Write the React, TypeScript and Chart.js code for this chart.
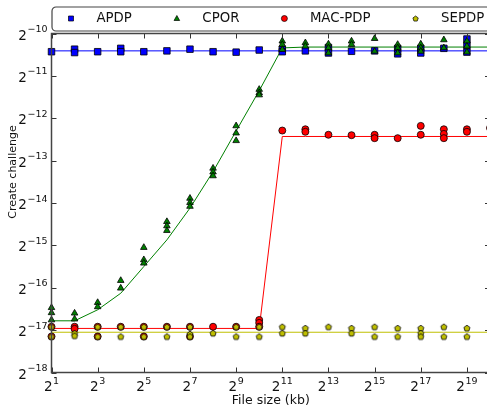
import { useEffect, useRef } from "react";
import { Chart, registerables } from "chart.js";

Chart.register(...registerables);

// File sizes in kb (powers of two)
const fileSizesKb = [
  2, 4, 8, 16, 32, 64, 128, 256, 512, 1024, 2048, 4096, 8192, 16384, 32768,
  65536, 131072, 262144, 524288, 1048576,
];

// Series names
const seriesNames = ["APDP", "CPOR", "MAC-PDP", "SEPDP"];

// Trend lines, log2 of the time (one value per file size)
const apdpTrendLog2 = [
  -10.41, -10.41, -10.41, -10.41, -10.41, -10.41, -10.41, -10.41, -10.41, -10.41,
  -10.41, -10.41, -10.41, -10.41, -10.41, -10.41, -10.41, -10.41, -10.41, -10.41,
];
const cporTrendLog2 = [
  -16.78, -16.78, -16.52, -16.13, -15.5, -14.87, -14.12, -13.26, -12.3, -11.35,
  -10.34, -10.32, -10.32, -10.32, -10.32, -10.32, -10.32, -10.32, -10.32, -10.32,
];
const macPdpTrendLog2 = [
  -16.96, -16.96, -16.96, -16.96, -16.96, -16.96, -16.96, -16.96, -16.96, -16.96,
  -12.43, -12.43, -12.43, -12.43, -12.43, -12.43, -12.43, -12.43, -12.43, -12.43,
];
const sepdpTrendLog2 = [
  -17.05, -17.05, -17.05, -17.05, -17.05, -17.05, -17.05, -17.05, -17.05, -17.05,
  -17.05, -17.05, -17.05, -17.05, -17.05, -17.05, -17.05, -17.05, -17.05, -17.05,
];

// Individual runs, log2 of the time (list per file size)
const apdpRunsLog2 = [
  [-10.43], [-10.37, -10.45], [-10.43], [-10.35, -10.43], [-10.43],
  [-10.41], [-10.37], [-10.43], [-10.44], [-10.39],
  [-10.37, -10.43], [-10.41], [-10.33, -10.46], [-10.42], [-10.41],
  [-10.35, -10.48], [-10.35, -10.46], [-10.35], [-10.13, -10.28, -10.44], [],
];
const cporRunsLog2 = [
  [-16.47, -16.59, -16.76], [-16.6, -16.74], [-16.35, -16.45], [-15.83, -16.01],
  [-15.05, -15.34, -15.42], [-14.44, -14.54, -14.65], [-13.89, -13.99, -14.08],
  [-13.18, -13.27, -13.36], [-12.18, -12.35, -12.53], [-11.32, -11.4, -11.45],
  [-10.18, -10.26, -10.38], [-10.22, -10.3], [-10.25, -10.34, -10.46],
  [-10.18, -10.26], [-10.12, -10.42], [-10.26, -10.34, -10.46],
  [-10.25, -10.34, -10.42], [-10.15, -10.34], [-10.18, -10.3, -10.44], [],
];
const macPdpRunsLog2 = [
  [-16.92, -17.15], [-16.92, -16.97], [-16.92, -17.15], [-16.92], [-16.92, -17.15],
  [-16.92], [-16.92, -17.15], [-16.92], [-16.92], [-16.76, -16.83, -16.92],
  [-12.29], [-12.26, -12.32], [-12.39], [-12.4], [-12.39, -12.47],
  [-12.47], [-12.18, -12.39], [-12.26, -12.37, -12.47], [-12.26, -12.32], [-12.23],
];
const sepdpRunsLog2 = [
  [-16.92, -17.15], [-17.07, -17.13], [-16.92, -17.15], [-16.92, -17.15],
  [-16.92, -17.15], [-16.92, -17.15], [-16.92, -17.09, -17.15], [-17.07],
  [-16.92, -17.15], [-16.92, -17.15], [-16.92, -17.07], [-16.95, -17.07],
  [-16.92], [-16.95, -17.07], [-16.92, -17.15], [-16.95, -17.15],
  [-16.95, -17.07, -17.15], [-16.92, -17.15], [-16.95, -17.15], [],
];

// Axis ticks (powers of two)
const xTickPowers = [1, 3, 5, 7, 9, 11, 13, 15, 17, 19];
const yTickPowers = [-18, -17, -16, -15, -14, -13, -12, -11, -10];

const xTitle = "File size (kb)";
const yTitle = "Create challenge";

const BLUE = "#0000ff";
const GREEN = "#008000";
const RED = "#ff0000";
const YELLOW = "#bfbf00";
const EDGE = "#000000";
const FONT = '"DejaVu Sans", sans-serif';

const toPoints = (runs: number[][]) => {
  const pts: { x: number; y: number }[] = [];
  runs.forEach((vals, i) => vals.forEach((v) => pts.push({ x: fileSizesKb[i], y: 2 ** v })));
  return pts;
};
const toLine = (trend: number[]) => trend.map((v, i) => ({ x: fileSizesKb[i], y: 2 ** v }));

function pentagonPath(ctx: CanvasRenderingContext2D, cx: number, cy: number, r: number) {
  ctx.beginPath();
  for (let k = 0; k < 5; k++) {
    const a = -Math.PI / 2 + (k * 2 * Math.PI) / 5;
    const px = cx + r * Math.cos(a);
    const py = cy + r * Math.sin(a);
    if (k === 0) ctx.moveTo(px, py);
    else ctx.lineTo(px, py);
  }
  ctx.closePath();
}

function makePentagon(r: number) {
  const c = document.createElement("canvas");
  const s = Math.ceil(r * 2 + 3);
  c.width = s;
  c.height = s;
  const g = c.getContext("2d")!;
  pentagonPath(g, s / 2, s / 2 + 0.4, r);
  g.fillStyle = YELLOW;
  g.fill();
  g.lineWidth = 0.8;
  g.strokeStyle = EDGE;
  g.stroke();
  return c;
}

function drawPower(
  ctx: CanvasRenderingContext2D,
  exp: string,
  x: number,
  baseY: number,
  align: "center" | "right"
) {
  const baseFont = `13.5px ${FONT}`;
  const expFont = `9.5px ${FONT}`;
  ctx.font = baseFont;
  const wb = ctx.measureText("2").width;
  ctx.font = expFont;
  const we = ctx.measureText(exp).width;
  const total = wb + we + 0.5;
  const start = align === "center" ? x - total / 2 : x - total;
  ctx.textAlign = "left";
  ctx.textBaseline = "alphabetic";
  ctx.font = baseFont;
  ctx.fillText("2", start, baseY);
  ctx.font = expFont;
  ctx.fillText(exp, start + wb + 0.5, baseY - 7.5);
}

const framePlugin = {
  id: "frame",
  afterDatasetsDraw(chart: any) {
    const { ctx, chartArea: a, scales } = chart;
    const xs = scales.x;
    const ys = scales.y;
    ctx.save();

    // inward tick marks on all four sides
    ctx.strokeStyle = "#333";
    ctx.lineWidth = 1;
    ctx.beginPath();
    xTickPowers.forEach((p) => {
      const px = Math.round(xs.getPixelForValue(2 ** p)) + 0.5;
      ctx.moveTo(px, a.bottom);
      ctx.lineTo(px, a.bottom - 5);
      ctx.moveTo(px, a.top);
      ctx.lineTo(px, a.top + 5);
    });
    yTickPowers.forEach((p) => {
      const py = Math.round(ys.getPixelForValue(2 ** p)) + 0.5;
      ctx.moveTo(a.left, py);
      ctx.lineTo(a.left + 5, py);
      ctx.moveTo(a.right, py);
      ctx.lineTo(a.right - 5, py);
    });
    ctx.stroke();

    // axes frame
    ctx.strokeStyle = "#444";
    ctx.lineWidth = 1.5;
    ctx.strokeRect(a.left, a.top, a.right - a.left, a.bottom - a.top);

    // tick labels
    ctx.fillStyle = "#111";
    xTickPowers.forEach((p) => {
      drawPower(ctx, String(p), xs.getPixelForValue(2 ** p), a.bottom + 18.5, "center");
    });
    yTickPowers.forEach((p) => {
      drawPower(ctx, "\u2212" + String(-p), a.left - 4, ys.getPixelForValue(2 ** p) + 6, "right");
    });

    // axis titles
    ctx.textAlign = "center";
    ctx.textBaseline = "middle";
    ctx.font = `12.5px ${FONT}`;
    ctx.fillText(xTitle, (a.left + a.right) / 2, 401);
    ctx.save();
    ctx.font = `11px ${FONT}`;
    ctx.translate(13, 172);
    ctx.rotate(-Math.PI / 2);
    ctx.fillText(yTitle, 0, 0);
    ctx.restore();

    // legend box
    const bx = a.left + 0.5;
    const by = 7;
    const bw = a.right - a.left;
    const bh = 24;
    ctx.beginPath();
    ctx.roundRect(bx, by, bw, bh, 4);
    ctx.fillStyle = "#fff";
    ctx.fill();
    ctx.strokeStyle = "#444";
    ctx.lineWidth = 1.2;
    ctx.stroke();

    const legendFont = `13.3px ${FONT}`;
    ctx.font = legendFont;
    ctx.textAlign = "left";
    ctx.textBaseline = "middle";
    let mx = a.left + 19.5;
    const my = 18.5;
    seriesNames.forEach((name, i) => {
      ctx.lineWidth = 0.7;
      ctx.strokeStyle = EDGE;
      if (i === 0) {
        ctx.fillStyle = BLUE;
        ctx.beginPath();
        ctx.rect(mx - 2.5, my - 2.5, 5, 5);
        ctx.fill();
        ctx.stroke();
      } else if (i === 1) {
        ctx.fillStyle = GREEN;
        ctx.beginPath();
        ctx.moveTo(mx, my - 3);
        ctx.lineTo(mx + 2.8, my + 2);
        ctx.lineTo(mx - 2.8, my + 2);
        ctx.closePath();
        ctx.fill();
        ctx.stroke();
      } else if (i === 2) {
        ctx.fillStyle = RED;
        ctx.beginPath();
        ctx.arc(mx, my, 3, 0, Math.PI * 2);
        ctx.fill();
        ctx.stroke();
      } else {
        ctx.fillStyle = YELLOW;
        pentagonPath(ctx, mx, my + 0.3, 2.8);
        ctx.fill();
        ctx.stroke();
      }
      ctx.fillStyle = "#111";
      ctx.font = legendFont;
      const tx = mx + 25.5;
      ctx.fillText(name, tx, my);
      mx = tx + ctx.measureText(name).width + 45;
    });

    ctx.restore();
  },
};

export default function App() {
  const canvasRef = useRef<HTMLCanvasElement | null>(null);

  useEffect(() => {
    const canvas = canvasRef.current;
    if (!canvas) return;
    const pentagon = makePentagon(3.2);

    const lineDs = (label: string, trend: number[], color: string) => ({
      type: "line" as const,
      label,
      data: toLine(trend),
      borderColor: color,
      backgroundColor: color,
      borderWidth: 1,
      pointRadius: 0,
      tension: 0,
      fill: false,
      order: 10,
    });

    const chart = new Chart(canvas, {
      type: "scatter",
      data: {
        datasets: [
          lineDs("APDP trend", apdpTrendLog2, BLUE),
          lineDs("CPOR trend", cporTrendLog2, GREEN),
          lineDs("MAC-PDP trend", macPdpTrendLog2, RED),
          lineDs("SEPDP trend", sepdpTrendLog2, YELLOW),
          {
            label: "APDP",
            data: toPoints(apdpRunsLog2),
            pointStyle: "rect",
            pointRadius: 4.6,
            backgroundColor: BLUE,
            borderColor: EDGE,
            borderWidth: 0.8,
            clip: false,
            order: 4,
          },
          {
            label: "CPOR",
            data: toPoints(cporRunsLog2),
            pointStyle: "triangle",
            pointRadius: 3.8,
            backgroundColor: GREEN,
            borderColor: EDGE,
            borderWidth: 0.8,
            clip: false,
            order: 3,
          },
          {
            label: "MAC-PDP",
            data: toPoints(macPdpRunsLog2),
            pointStyle: "circle",
            pointRadius: 3.5,
            backgroundColor: RED,
            borderColor: EDGE,
            borderWidth: 0.8,
            clip: false,
            order: 2,
          },
          {
            label: "SEPDP",
            data: toPoints(sepdpRunsLog2),
            pointStyle: pentagon,
            pointRadius: 3.2,
            backgroundColor: YELLOW,
            borderColor: EDGE,
            borderWidth: 0.8,
            clip: false,
            order: 1,
          },
        ] as any,
      },
      options: {
        animation: false,
        responsive: false,
        devicePixelRatio: 1,
        layout: { padding: { left: 51.5, right: 10, top: 33.5, bottom: 39.5 } },
        scales: {
          x: { type: "logarithmic", min: 2, max: 1048576, display: false },
          y: { type: "logarithmic", min: 2 ** -18, max: 2 ** -10, display: false },
        },
        plugins: {
          legend: { display: false },
          tooltip: { enabled: false },
        },
        events: [],
      },
      plugins: [framePlugin],
    });

    return () => chart.destroy();
  }, []);

  return (
    <div
      style={{
        position: "fixed",
        left: 0,
        top: 0,
        width: 487,
        height: 412,
        overflow: "hidden",
        background: "#fff",
      }}
    >
      <canvas ref={canvasRef} width={500} height={412} style={{ display: "block" }} />
    </div>
  );
}
